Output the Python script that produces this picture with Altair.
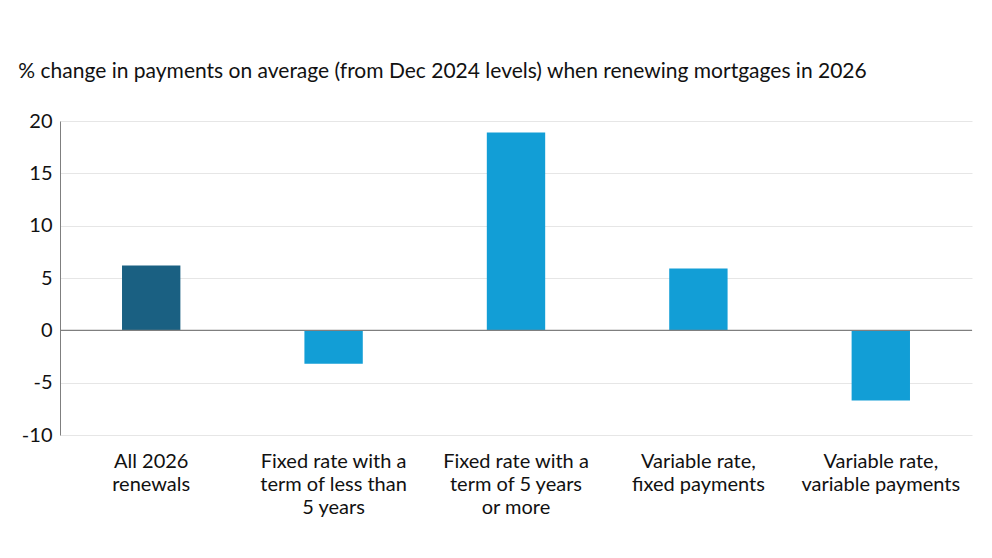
import altair as alt
import pandas as pd

categories = [
    "All 2026 renewals",
    "Fixed rate with a term of less than 5 years",
    "Fixed rate with a term of 5 years or more",
    "Variable rate, fixed payments",
    "Variable rate, variable payments",
]
tick_labels = [
    ["All 2026", "renewals"],
    ["Fixed rate with a", "term of less than", "5 years"],
    ["Fixed rate with a", "term of 5 years", "or more"],
    ["Variable rate,", "fixed payments"],
    ["Variable rate,", "variable payments"],
]
values = [6.2, -3.2, 18.9, 5.9, -6.7]
groups = ["all", "sub", "sub", "sub", "sub"]
y_ticks = [-10, -5, 0, 5, 10, 15, 20]
title_text = "% change in payments on average (from Dec 2024 levels) when renewing mortgages in 2026"

df = pd.DataFrame({"category": categories, "value": values, "group": groups})

label_map = "{" + ", ".join(
    "'" + c + "': [" + ", ".join("'" + s + "'" for s in ls) + "]"
    for c, ls in zip(categories, tick_labels)
) + "}"
label_expr = label_map + "[datum.label]"

FONT = "Lato"

base = alt.Chart(df)

bars = base.mark_bar(width=alt.RelativeBandSize(0.32)).encode(
    x=alt.X(
        "category:N",
        sort=categories,
        scale=alt.Scale(paddingInner=0, paddingOuter=0),
        axis=alt.Axis(
            title=None,
            labelAngle=0,
            domain=False,
            ticks=False,
            labelExpr=label_expr,
            labelFontSize=20,
            labelLineHeight=23,
            labelPadding=16,
            labelColor="#111111",
            labelFont=FONT,
            labelBaseline="top",
            labelLimit=300,
        ),
    ),
    y=alt.Y(
        "value:Q",
        scale=alt.Scale(domain=[-10, 20], nice=False),
        axis=alt.Axis(
            title=None,
            values=y_ticks,
            ticks=False,
            domain=True,
            domainColor="#7f7f7f",
            domainWidth=1,
            gridColor="#e6e6e6",
            gridWidth=1,
            labelExpr="'' + datum.value",
            labelFontSize=20,
            labelPadding=8,
            labelColor="#111111",
            labelFont=FONT,
        ),
    ),
    color=alt.Color(
        "group:N",
        scale=alt.Scale(domain=["all", "sub"], range=["#1a6082", "#129ed6"]),
        legend=None,
    ),
)

zero = alt.Chart(pd.DataFrame({"y": [0]})).mark_rule(color="#7f7f7f", strokeWidth=1.2).encode(
    y="y:Q"
)

chart = (
    alt.layer(bars, zero)
    .properties(
        width=912,
        height=314,
        padding={"left": 52, "top": 113, "right": 12, "bottom": 115},
        autosize=alt.AutoSizeParams(type="none"),
        title=alt.TitleParams(
            title_text,
            anchor="start",
            dx=-3,
            offset=29,
            fontSize=21,
            fontWeight="normal",
            font=FONT,
            color="#111111",
        ),
    )
    .configure_view(stroke=None)
)

chart.save("out.html", embed_options={"renderer": "svg", "actions": False})
